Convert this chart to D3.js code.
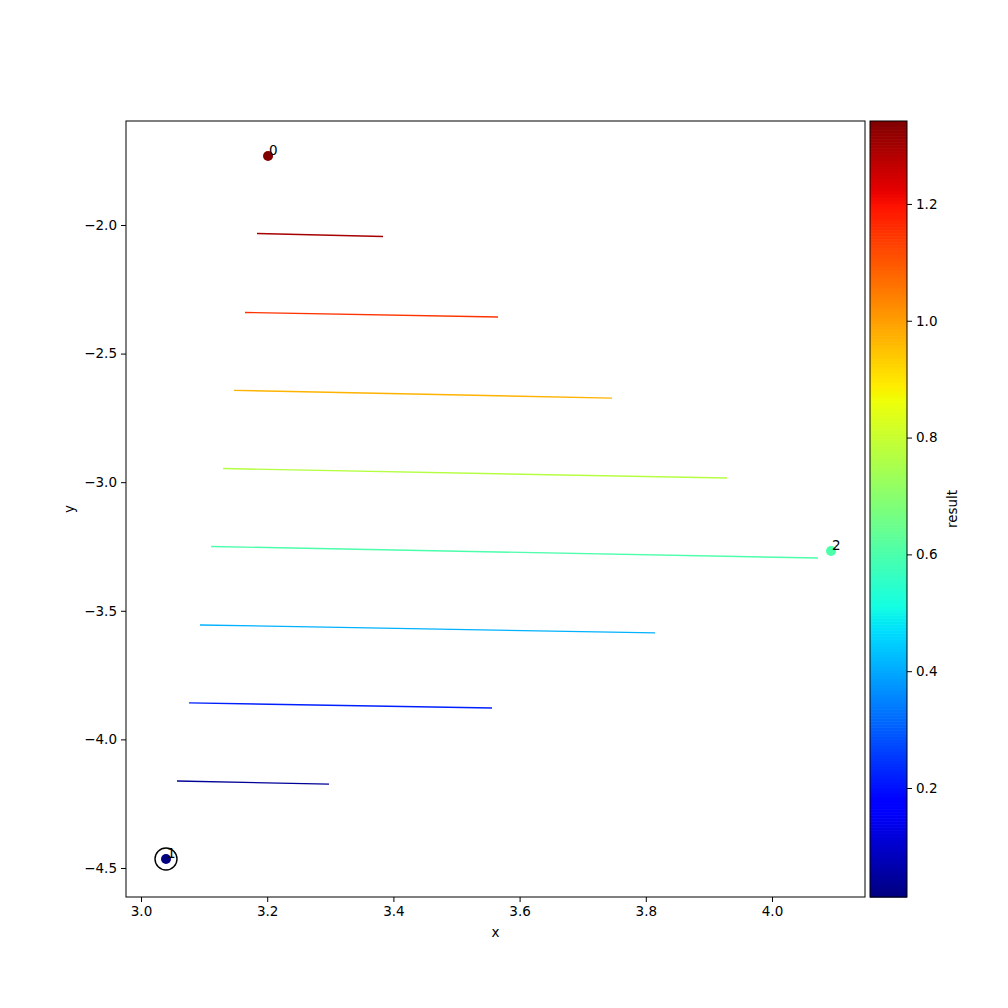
<!DOCTYPE html>
<html>
<head>
<meta charset="utf-8">
<script src="https://cdn.jsdelivr.net/npm/d3@7"></script>
<style>
body { margin: 0; background: #fff; }
svg text { font-family: "DejaVu Sans", sans-serif; }
</style>
</head>
<body>
<svg id="chart" width="1008" height="1008"></svg>
<script>
// ---- data ----
const pointIds = ["0", "1", "2"];
const pointX = [3.2013, 3.0396, 4.0935];
const pointY = [-1.7317, -4.465, -3.2675];
const pointValue = [1.342, 0.0134, 0.60];
const highlightedPoint = 1;

const lineLevels = [1.30, 1.15, 0.97, 0.77, 0.60, 0.41, 0.22, 0.04];
const lineX1 = [3.1838, 3.1648, 3.1474, 3.1300, 3.1110, 3.0935, 3.0761, 3.0570];
const lineY1 = [-2.033, -2.340, -2.643, -2.947, -3.250, -3.555, -3.858, -4.162];
const lineX2 = [3.3835, 3.5658, 3.7464, 3.9287, 4.0729, 3.8146, 3.5563, 3.2980];
const lineY2 = [-2.045, -2.358, -2.673, -2.984, -3.295, -3.586, -3.878, -4.174];

const xTicks = [3.0, 3.2, 3.4, 3.6, 3.8, 4.0];
const yTicks = [-2.0, -2.5, -3.0, -3.5, -4.0, -4.5];
const cbTicks = [0.2, 0.4, 0.6, 0.8, 1.0, 1.2];
const xDomain = [2.9762, 4.1474];
const yDomain = [-4.6128, -1.5957];
const valueDomain = [0.0134, 1.342];

// ---- jet colormap (matplotlib segment data) ----
const jetR = [[0,0],[0.35,0],[0.66,1],[0.89,1],[1,0.5]];
const jetG = [[0,0],[0.125,0],[0.375,1],[0.64,1],[0.91,0],[1,0]];
const jetB = [[0,0.5],[0.11,1],[0.34,1],[0.65,0],[1,0]];
function seg(s, t) {
  for (let i = 1; i < s.length; i++) {
    if (t <= s[i][0]) {
      const [t0, v0] = s[i-1], [t1, v1] = s[i];
      return v0 + (v1 - v0) * (t - t0) / (t1 - t0);
    }
  }
  return s[s.length-1][1];
}
function jet(t) {
  t = Math.max(0, Math.min(1, t));
  return d3.rgb(255*seg(jetR,t), 255*seg(jetG,t), 255*seg(jetB,t)).formatHex();
}
const norm = d3.scaleLinear().domain(valueDomain).range([0, 1]).clamp(true);
const color = v => jet(norm(v));

// ---- layout ----
const svg = d3.select("#chart");
const L = 126, R = 865, T = 121, B = 897;
const x = d3.scaleLinear().domain(xDomain).range([L, R]);
const y = d3.scaleLinear().domain(yDomain).range([B, T]);
const fmt = d3.format(".1f");
const minusFmt = v => fmt(v).replace("-", "\u2212");

// axes
const xAxis = svg.append("g").attr("transform", `translate(0,${B})`)
  .call(d3.axisBottom(x).tickValues(xTicks).tickFormat(minusFmt).tickSize(5).tickPadding(4));
const yAxis = svg.append("g").attr("transform", `translate(${L},0)`)
  .call(d3.axisLeft(y).tickValues(yTicks).tickFormat(minusFmt).tickSize(5).tickPadding(4));
[xAxis, yAxis].forEach(g => {
  g.select(".domain").remove();
  g.selectAll("text").attr("font-size", 13.5).attr("fill", "#000")
    .style("font-family", "DejaVu Sans, sans-serif");
  g.selectAll("line").attr("stroke", "#000").attr("stroke-width", 1);
});

// contour-like lines
const plot = svg.append("g");
plot.selectAll("line.lvl").data(lineLevels).join("line")
  .attr("class", "lvl")
  .attr("x1", (d, i) => x(lineX1[i])).attr("y1", (d, i) => y(lineY1[i]))
  .attr("x2", (d, i) => x(lineX2[i])).attr("y2", (d, i) => y(lineY2[i]))
  .attr("stroke", d => color(d)).attr("stroke-width", 1.4);

// points
plot.selectAll("circle.pt").data(pointIds).join("circle")
  .attr("class", "pt")
  .attr("cx", (d, i) => x(pointX[i])).attr("cy", (d, i) => y(pointY[i]))
  .attr("r", 5).attr("fill", (d, i) => color(pointValue[i]));
plot.append("circle")
  .attr("cx", x(pointX[highlightedPoint])).attr("cy", y(pointY[highlightedPoint]))
  .attr("r", 11).attr("fill", "none").attr("stroke", "#000").attr("stroke-width", 1.4);
plot.selectAll("text.lbl").data(pointIds).join("text")
  .attr("class", "lbl")
  .attr("x", (d, i) => x(pointX[i]) + 1).attr("y", (d, i) => y(pointY[i]) - 1)
  .attr("font-size", 13.5).attr("fill", "#000").text(d => d);

// frame
svg.append("rect").attr("x", L).attr("y", T).attr("width", R - L).attr("height", B - T)
  .attr("fill", "none").attr("stroke", "#000").attr("stroke-width", 1);

// axis labels
svg.append("text").attr("x", (L + R) / 2).attr("y", 937).attr("text-anchor", "middle")
  .attr("font-size", 13.5).text("x");
svg.append("text").attr("transform", `translate(74,${(T + B) / 2}) rotate(-90)`)
  .attr("text-anchor", "middle").attr("font-size", 13.5).text("y");

// colorbar
const cbL = 870, cbR = 907;
const cbY = d3.scaleLinear().domain(valueDomain).range([B, T]);
const nBands = 256;
const bands = d3.range(nBands);
const cb = svg.append("g");
cb.selectAll("rect").data(bands).join("rect")
  .attr("x", cbL).attr("width", cbR - cbL)
  .attr("y", d => cbY(valueDomain[0] + (d + 1) * (valueDomain[1] - valueDomain[0]) / nBands))
  .attr("height", (B - T) / nBands + 0.6)
  .attr("fill", d => jet((d + 0.5) / nBands));
cb.append("rect").attr("x", cbL).attr("y", T).attr("width", cbR - cbL).attr("height", B - T)
  .attr("fill", "none").attr("stroke", "#000").attr("stroke-width", 1);
const cbAxis = svg.append("g").attr("transform", `translate(${cbR},0)`)
  .call(d3.axisRight(cbY).tickValues(cbTicks).tickFormat(fmt).tickSize(5).tickPadding(4));
cbAxis.select(".domain").remove();
cbAxis.selectAll("text").attr("font-size", 13.5).attr("fill", "#000")
  .style("font-family", "DejaVu Sans, sans-serif");
cbAxis.selectAll("line").attr("stroke", "#000");
svg.append("text").attr("transform", `translate(957,${(T + B) / 2}) rotate(-90)`)
  .attr("text-anchor", "middle").attr("font-size", 13.5).text("result");
</script>
</body>
</html>
